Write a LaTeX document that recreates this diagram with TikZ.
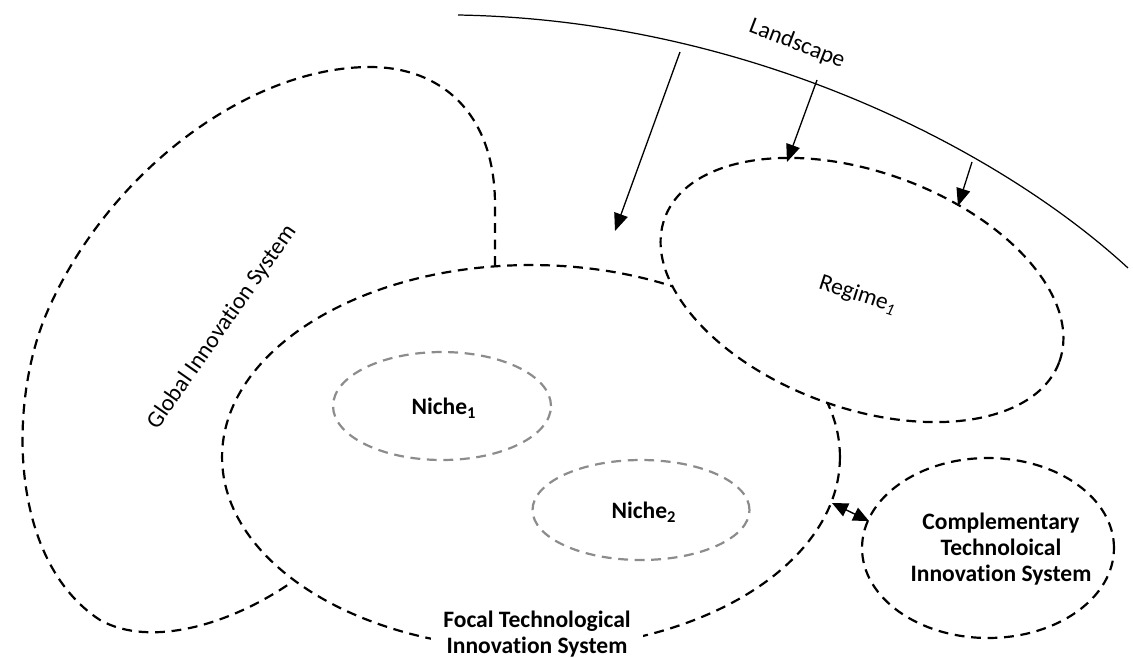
\documentclass[tikz,border=0pt]{standalone}
\usepackage{fontspec}
\setmainfont{Carlito}[Ligatures=NoCommon]
\usetikzlibrary{arrows.meta,shapes.geometric}
\begin{document}
\begin{tikzpicture}[x=0.02cm,y=-0.02cm,
  bdash/.style={draw=black, line width=1.25pt, dash pattern=on 5.6pt off 3.8pt},
  gdash/.style={draw=black!45, line width=1.25pt, dash pattern=on 5.6pt off 3.8pt},
  ell/.style={ellipse, inner sep=0pt, outer sep=0pt},
  lbl/.style={font=\fontsize{13.4}{15}\selectfont, align=center, inner sep=1pt},
  blbl/.style={font=\fontsize{13.4}{15}\selectfont\bfseries, align=center, inner sep=1pt},
  arr/.style={line width=0.75pt, -{Triangle[length=10pt,width=8pt]}},
  darr/.style={line width=0.8pt, {Triangle[length=9pt,width=8pt]}-{Triangle[length=9pt,width=8pt]}},
]
\useasboundingbox (0,0) rectangle (1133,657);

% Global innovation system outline
\draw[bdash] (495,266) -- (495,205)
  .. controls (495,112) and (440,67) .. (370,67)
  .. controls (250,67) and (110,170) .. (48,310)
  .. controls (8,400) and (8,560) .. (100,620)
  .. controls (150,648) and (230,625) .. (292,582);

% Focal TIS
\node[ell, bdash, fill=white, minimum width=12.36cm, minimum height=7.68cm] (focal) at (531,457) {};
% Regime
\node[ell, bdash, fill=white, rotate=-20, minimum width=8.4cm, minimum height=4.72cm] (regime) at (862,290) {};
% Complementary TIS
\node[ell, bdash, minimum width=5.04cm, minimum height=3.6cm] (comp) at (988,548) {};
% Niches
\node[ell, gdash, minimum width=4.36cm, minimum height=2.16cm] (niche1) at (442,406) {};
\node[ell, gdash, minimum width=4.34cm, minimum height=2.0cm] (niche2) at (641,510) {};

% Landscape
\draw[line width=0.7pt] (458,15) .. controls (750,20) and (1000,150) .. (1128,268);
\coordinate (a1s) at (680,52);
\coordinate (a1e) at (615,231);
\coordinate (a2s) at (817,80);
\coordinate (a2e) at (787,162);
\coordinate (a3s) at (972,162);
\coordinate (a3e) at (958,206);
\draw[arr] (a1s) -- (a1e);
\draw[arr] (a2s) -- (a2e);
\draw[arr] (a3s) -- (a3e);

% interaction between focal and complementary
\coordinate (d1) at (832,503);
\coordinate (d2) at (869,521);
\draw[darr] (d1) -- (d2);

% Labels
\node[lbl, rotate=-21] (landlbl) at (797,44) {Landscape};
\node[lbl, rotate=-18] (reglbl) at (858,295) {Regime\textsubscript{\textit{1}}};
\node[lbl, rotate=55] (globlbl) at (222,327) {Global Innovation System};
\node[blbl] (n1lbl) at (444,408) {Niche\textsubscript{1}};
\node[blbl] (n2lbl) at (644,512) {Niche\textsubscript{2}};
\node[blbl] (complbl) at (1001,549) {Complementary\\Technoloical\\Innovation System};
\node[blbl, fill=white, inner xsep=7pt, inner ysep=2pt] (focallbl) at (537,634) {Focal Technological\\Innovation System};
\end{tikzpicture}
\end{document}
